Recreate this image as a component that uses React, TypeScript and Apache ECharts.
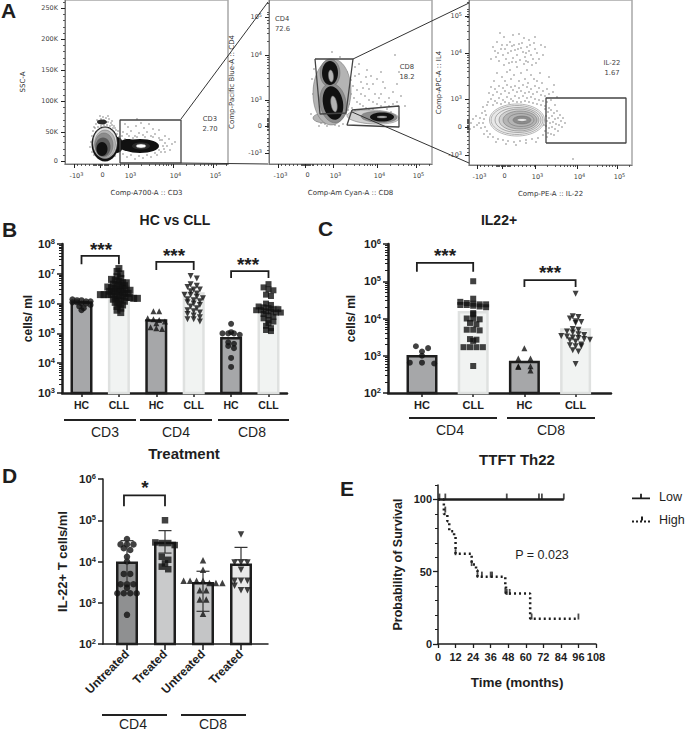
import React, { useEffect, useRef } from "react";
import * as echarts from "echarts";

const SANS = "'Liberation Sans', Arial, sans-serif";
const FLOW = "'DejaVu Sans', sans-serif";
const INK = "#1e1e1e";

// ---------- Panel A: flow plots (values in channel units of each plot)
const A1_DOTS = [[33,43],[36,45],[38,47],[41,46],[44,45],[47,43],[31,40],[34,41],[37,42],[40,43],[43,42],[46,41],[49,38],[30,36],[33,37],[36,38],[39,39],[42,39],[45,38],[48,36],[51,34],[28,33],[27,28],[26,22],[25,17],[27,12],[29,9],[52,30],[54,27],[55,24],[53,18],[52,13],[50,8],[58,32],[62,30],[66,33],[70,28],[74,31],[78,29],[82,32],[86,28],[90,30],[94,26],[63,37],[71,38],[79,36],[88,35],[76,41],[68,26],[60,25],[97,24],[100,21],[102,18],[99,15],[96,12],[92,9],[86,7],[78,6],[70,5],[62,7],[104,25],[107,20],[105,14],[100,28],[110,22],[94,34],[84,40],[72,45],[60,40],[35,48],[32,44],[39,44],[43,48],[29,37],[47,39],[50,36],[53,33],[57,28],[64,28],[72,27],[80,27],[88,27],[95,24],[98,18],[100,12],[94,14],[58,10],[66,9],[74,8],[82,9],[90,11]];
const A2_DOTS = [[63,112],[71,107],[126,109],[86,97],[90,90],[92,82],[97,87],[100,75],[104,80],[108,85],[112,70],[116,76],[120,66],[124,72],[128,80],[84,78],[88,74],[92,70],[96,68],[100,64],[104,62],[108,60],[112,58],[116,62],[120,58],[124,60],[82,70],[85,66],[88,62],[91,60],[94,58],[97,56],[100,54],[104,55],[108,52],[78,66],[80,60],[83,56],[86,54],[89,52],[92,50],[95,52],[78,75],[82,84],[86,88],[78,92],[76,84],[80,78],[94,76],[98,80],[102,88],[106,70],[110,66],[114,82],[118,55],[122,52],[128,62],[132,68],[136,58],[90,100],[98,94],[112,92],[130,92],[76,70],[79,54],[75,60],[77,50],[45,46],[48,43],[52,41],[56,40],[60,41],[64,42],[68,44],[72,46],[50,38],[58,38],[66,39],[42,50],[44,70],[46,80],[43,85],[45,95],[47,60],[74,40],[70,38]];
const A3_DOTS = [[31,132],[35,128],[44,130],[50,131],[55,127],[60,125],[66,128],[72,120],[24,118],[26,114],[28,123],[33,120],[36,116],[39,112],[41,123],[43,119],[46,115],[48,110],[50,121],[52,117],[54,113],[56,108],[58,118],[60,114],[62,110],[64,106],[66,116],[68,112],[70,106],[27,108],[30,104],[34,110],[37,106],[40,102],[44,107],[47,103],[51,105],[55,101],[59,103],[63,100],[29,112],[32,116],[42,114],[45,120],[49,116],[53,122],[57,112],[61,120],[65,122],[22,106],[38,120],[43,103],[57,104],[67,102],[74,110],[76,118],[35,100],[48,98],[41,95],[58,95],[28,92],[33,88],[38,93],[45,90],[52,92],[56,86],[62,90],[68,84],[71,92],[25,84],[36,84],[42,86],[50,84],[59,82],[65,86],[73,82],[80,88],[85,80],[22,78],[26,76],[30,79],[34,77],[38,80],[42,78],[46,79],[50,77],[54,80],[58,78],[62,76],[66,79],[70,77],[74,74],[78,76],[84,73],[20,72],[24,70],[28,73],[32,71],[36,74],[40,72],[44,75],[48,73],[52,74],[56,72],[60,73],[64,71],[68,73],[72,70],[76,69],[80,71],[88,68],[22,66],[26,64],[30,67],[34,65],[38,68],[42,66],[46,69],[50,67],[54,69],[58,67],[62,68],[66,66],[70,65],[74,64],[78,63],[82,65],[86,60],[18,60],[24,60],[28,62],[32,61],[36,63],[40,62],[44,64],[48,63],[52,63],[56,64],[60,63],[64,62],[68,61],[72,60],[76,59],[80,57],[14,58],[16,54],[19,63],[17,50],[15,46],[14,42],[16,38],[18,34],[21,31],[13,52],[11,47],[12,37],[10,42],[15,31],[19,28],[24,28],[29,26],[34,25],[39,24],[45,23],[51,24],[57,25],[63,26],[69,27],[74,30],[27,23],[37,21],[47,20],[57,22],[67,23],[7,49],[4,46],[2,42],[8,40],[5,38],[1,36],[76,56],[79,53],[82,55],[85,52],[88,54],[91,50],[77,49],[80,47],[83,49],[86,46],[89,47],[92,44],[78,44],[81,42],[84,43],[87,41],[90,40],[93,38],[77,39],[80,37],[83,38],[86,36],[89,34],[76,34],[79,32],[82,31],[85,30],[94,47],[96,42],[78,28],[74,45],[75,40],[104,6]];

// contour levels: x, y, rx, ry, rotation, shade index
const A1_LEVELS = [[52,19,6,8,0,7],[37,42,5,2.5,0,6],[40,20,13.5,17.5,0,7],[40,21,12,15.5,0,1],[40,20,10.5,14,0,3],[39,19,9,12,0,4],[38,17,7.5,9.5,0,5],[37,15,5.5,7,0,7],[63,19,9,6,0,7],[75,18,19,7,0,7],[76,18,9,3.5,0,6],[76,18,5,2,0,0]];
const A2_LEVELS = [[56,46,12,5,0,3],[63,72,19,33,-2,3],[61,91,10,14,0,4],[64,61,13,20,10,4],[61,91,8,12,0,7],[64,61,10,17,10,7],[62,88,2.5,6,5,3],[65,60,3,8,10,3],[104,47,26,7,-3,2],[110,47,18,5.5,-2,4],[113,47,12,4.5,0,7],[113,47,5,1,0,3]];
const A3_LEVELS = [[48,45,27.5,16,0,0],[48,45,26,14.5,0,1],[49,45,23,12.5,0,1],[50,45,20,11,0,2],[51,45,17,9,0,3],[52,45,13,6.5,0,3],[53,45,9,4,0,4],[53,45,5,1.2,0,0]];
const SHADES = ["#ffffff","#e8e8e8","#d0d0d0","#b4b4b4","#8c8c8c","#5a5a5a","#2a2a2a","#111111"];

const A1_GATE = [[55,1],[116,1],[116,44],[55,44],[55,1]];
const A2_GATE_CD4 = [[46,105],[84,105],[77,51],[51,50],[46,105]];
const A2_GATE_CD8 = [[83,54],[130,58],[130,37],[78,39],[83,54]];
const A3_GATE = [[77,22],[157,22],[157,67],[77,67],[77,22]];

const BIEX_LABELS = [["-10","3"],["0",""],["10","3"],["10","4"],["10","5"]];
const A1_X_TICKS = [9,35,63,108,148];
const A1_Y_TICKS = [3,32,63,94,125,156];
const A1_Y_LABELS = ["0","50K","100K","150K","200K","250K"];
const A2_X_TICKS = [9,36,64,108,147];
const A2_Y_TICKS = [11,38,64,109,147];
const A3_X_TICKS = [8,33,66,108,148];
const A3_Y_TICKS = [10,38,66,112,149];
const BIEX_Y_LABELS = [["-10","3"],["0",""],["10","3"],["10","4"],["10","5"]];

// ---------- Panel B
const B_LABELS = ["HC","CLL","HC","CLL","HC","CLL"];
const B_BARS = [1.2e6,1.4e6,3e5,2.4e6,7.5e4,9e5];
const B_CD3_HC = [1.4e6,1.3e6,1.3e6,1.2e6,1.2e6,1.1e6,1.1e6,1e6,1e6,9e5,8e5,7e5,6e5];
const B_CD3_CLL = [1.5e7,1.2e7,1e7,8e6,7e6,6.5e6,6e6,5.5e6,5e6,5e6,4.5e6,4.2e6,4e6,4e6,3.6e6,3.4e6,3.2e6,3e6,3e6,3e6,2.8e6,2.6e6,2.5e6,2.5e6,2.4e6,2.2e6,2.2e6,2e6,2e6,2e6,2e6,1.8e6,1.8e6,1.8e6,1.6e6,1.6e6,1.5e6,1.5e6,1.4e6,1.4e6,1.3e6,1.2e6,1.1e6,1e6,9e5,8e5,7e5,6e5,5e5];
const B_CD4_HC = [5.5e5,5.5e5,3.2e5,3e5,2.8e5,2.5e5,2.2e5,1.6e5,1.5e5,1.4e5];
const B_CD4_CLL = [8.5e6,7e6,4.5e6,4e6,3.6e6,3e6,3e6,2.6e6,2.2e6,2e6,2e6,1.7e6,1.5e6,1.4e6,1.3e6,1.2e6,1.1e6,1e6,9e5,8e5,7e5,6e5,5.5e5,5e5,4.5e5,4e5,3.5e5,3e5,3e5,2.5e5];
const B_CD8_HC = [2.1e5,1.1e5,1e5,1e5,1e5,9e4,5e4,4.5e4,3.8e4,3.2e4,1.5e4,7.5e3];
const B_CD8_CLL = [4.5e6,3.5e6,3e6,2.8e6,2e6,1.8e6,1e6,9e5,8e5,7.5e5,7e5,6.5e5,6.5e5,6e5,6e5,5.5e5,5.5e5,5e5,5e5,4.5e5,4e5,3.6e5,3.2e5,2.8e5,2.5e5,2.2e5,1.8e5,1.5e5,1.3e5,1.2e5];
const B_BRACKETS = [[0,1,2.1e7,4e7],[2,3,1.35e7,2.5e7],[4,5,7.2e6,1.23e7]];

// ---------- Panel C
const C_LABELS = ["HC","CLL","HC","CLL"];
const C_BARS = [1.05e3,1.6e4,7.3e2,5.5e3];
const C_CD4_HC = [1.8e3,1.6e3,1.3e3,1e3,6.5e2,6.5e2,6.2e2];
const C_CD4_CLL = [1e5,3.4e4,2.8e4,2.6e4,2.5e4,2.4e4,2.4e4,2.3e4,2.3e4,2.2e4,2.1e4,2e4,1.4e4,1.3e4,1e4,1e4,9.5e3,7.6e3,7e3,5e3,5e3,4.8e3,2.8e3,2.7e3,2.5e3,1.7e3,1.7e3,1.7e3,1.7e3,5.3e2];
const C_CD8_HC = [1.6e3,8.5e2,8.5e2,5.2e2,5.2e2,5e2,4e2];
const C_CD8_CLL = [4.6e4,1.15e4,1.1e4,1e4,8.5e3,8e3,7.6e3,5.2e3,5e3,4.5e3,4.2e3,3.8e3,3.6e3,3.4e3,3.3e3,3.1e3,3e3,2.8e3,2.7e3,2.6e3,2.4e3,2e3,1.9e3,1.8e3,1.8e3,1.4e3,1.3e3,6e2];
const C_BRACKETS = [[-0.1,1,1.8e5,3.1e5],[2,3,7e4,1.07e5]];

// ---------- Panel D
const D_LABELS = ["Untreated","Treated","Untreated","Treated"];
const D_BARS = [1e4,3e4,3.2e3,9e3];
const D_UPPER = [3.2e4,5.6e4,5.8e3,2.2e4];
const D_LOWER = [3e3,1.6e4,6.2e2,1.1e4];
const D_CD4_U = [3.5e4,2.6e4,2.6e4,2.6e4,2.1e4,1.9e4,1.3e4,1e4,5e3,5e3,2.8e3,2.8e3,2.8e3,2.3e3,1.7e3,1.7e3,1.7e3,1.7e3,5.1e2];
const D_CD4_T = [1e5,2.9e4,2.8e4,2.8e4,2.5e4,1.3e4,1.1e4,9e3,7.5e3,6.5e3];
const D_CD8_U = [1.07e4,6.3e3,3.4e3,3.4e3,3.4e3,3.4e3,3e3,3e3,3e3,2e3,2e3,1.2e3,1.2e3,5.4e2];
const D_CD8_T = [4.5e4,9.5e3,9.5e3,9.5e3,6.3e3,3.4e3,3.4e3,3.4e3,2.6e3,2e3,2e3];
const D_BRACKETS = [[-0.08,1,2.2e5,4e5]];

// ---------- Panel E
const E_LOW = [[0,100],[86,100]];
const E_HIGH = [[0,100],[4,90],[6.4,85],[7.7,78],[11,74.5],[12,62.5],[23,55],[26,51],[27,46.5],[46,41],[46.5,35],[63,17.5],[96,17.5]];
const E_LOW_CENSORED = [[1,100],[5,100],[47,100],[69,100],[71,100],[86,100]];
const E_HIGH_CENSORED = [[5,92],[12,62.5],[23,55],[27,47],[30,47],[36,47],[37,47],[46,36],[47,35],[49,35],[64,18],[96,18]];
const E_X_TICKS = [0,12,24,36,48,60,72,84,96,108];

const swarm = (values, index, step, bin) => {
  const bins = new Map();
  values.forEach((v) => {
    const k = Math.round(Math.log10(v) / bin);
    if (!bins.has(k)) bins.set(k, []);
    bins.get(k).push(v);
  });
  const out = [];
  bins.forEach((list) => {
    list.forEach((v, i) => {
      out.push([index + (i - (list.length - 1) / 2) * step, v]);
    });
  });
  return out;
};

const grids = [], xAxes = [], yAxes = [], series = [];

const logMinor = (lo, hi) => {
  const r = [];
  for (let e = lo; e < hi; e++) for (let k = 2; k < 10; k++) r.push(e + Math.log10(k));
  return r;
};

const flowMinor = (ticks, extent) => {
  const r = [];
  const d = ticks[3] - ticks[2];
  for (let i = 2; i < 5; i++) {
    for (let k = 2; k < 10; k++) {
      const p = ticks[i] + d * Math.log10(k);
      if (p < extent) r.push(p);
    }
  }
  for (let p = ticks[0] + 3; p < ticks[2]; p += Math.abs(p - ticks[1]) < 8 ? 1.2 : 4) r.push(p);
  return r;
};

const supLabel = (pair) => (pair[1] ? `{t|${pair[0]}}{s|${pair[1]}}` : `{t|${pair[0]}}`);
const FLOW_RICH = {
  t: { fontSize: 6.5, fontFamily: FLOW, color: "#444" },
  s: { fontSize: 5, fontFamily: FLOW, color: "#444", padding: [0, 0, 4, 0] },
};

function flowPlot(cfg) {
  const gi = grids.length;
  grids.push({ left: cfg.left, top: cfg.top, width: cfg.w, height: cfg.h, show: true, borderColor: "#a8a8a8", borderWidth: 1.5, backgroundColor: "transparent" });
  const xi = xAxes.length, yi = yAxes.length;
  const xPad = cfg.labelShift;
  xAxes.push({
    type: "value", gridIndex: gi, min: 0, max: cfg.w, position: "bottom",
    name: cfg.xName, nameLocation: "middle", nameGap: 25,
    nameTextStyle: { fontSize: 7, fontFamily: FLOW, color: "#333" },
    axisLine: { onZero: false, lineStyle: { color: "#777", width: 1 } },
    axisTick: { customValues: cfg.xTicks, length: 4, inside: false, lineStyle: { color: "#222", width: 1 } },
    axisLabel: {
      customValues: cfg.xTicks, margin: 7, padding: [0, 0, 0, xPad], rich: FLOW_RICH,
      formatter: (v) => supLabel(BIEX_LABELS[cfg.xTicks.indexOf(v)] || ["", ""]),
    },
    splitLine: { show: false },
  });
  xAxes.push({
    type: "value", gridIndex: gi, min: 0, max: cfg.w, position: "bottom",
    axisLine: { show: false, onZero: false },
    axisTick: { customValues: flowMinor(cfg.xTicks, cfg.w), length: 2, lineStyle: { color: "#333", width: 0.8 } },
    axisLabel: { show: false }, splitLine: { show: false },
  });
  const yLabels = cfg.yLabels;
  yAxes.push({
    type: "value", gridIndex: gi, min: 0, max: cfg.h, position: "left",
    name: cfg.yName, nameLocation: "middle", nameGap: cfg.yNameGap,
    nameTextStyle: { fontSize: 7, fontFamily: FLOW, color: "#333" },
    axisLine: { onZero: false, lineStyle: { color: "#777", width: 1 } },
    axisTick: { customValues: cfg.yTicks, length: 4, lineStyle: { color: "#222", width: 1 } },
    axisLabel: {
      customValues: cfg.yTicks, margin: 7, rich: FLOW_RICH,
      formatter: (v) => {
        const l = yLabels[cfg.yTicks.indexOf(v)];
        return supLabel(Array.isArray(l) ? l : [l || "", ""]);
      },
    },
    splitLine: { show: false },
  });
  yAxes.push({
    type: "value", gridIndex: gi, min: 0, max: cfg.h, position: "left",
    axisLine: { show: false, onZero: false },
    axisTick: { customValues: cfg.yMinor, length: 2, lineStyle: { color: "#333", width: 0.8 } },
    axisLabel: { show: false }, splitLine: { show: false },
  });
  series.push({
    type: "scatter", xAxisIndex: xi, yAxisIndex: yi, data: cfg.dots, symbol: "rect", symbolSize: 1.2,
    itemStyle: { color: "#222", opacity: 0.85 }, silent: true, z: 2,
  });
  series.push({
    type: "custom", xAxisIndex: xi, yAxisIndex: yi, data: cfg.levels, clip: false, silent: true, z: 3,
    renderItem: (_p, api) => {
      const c = api.coord([api.value(0), api.value(1)]);
      const s = api.size([api.value(2), api.value(3)]);
      const lvl = api.value(5);
      return {
        type: "ellipse", x: c[0], y: c[1], rotation: (api.value(4) * Math.PI) / 180,
        shape: { cx: 0, cy: 0, rx: s[0], ry: s[1] },
        style: { fill: SHADES[lvl], stroke: lvl < 5 ? "#6a6a6a" : "none", lineWidth: 0.5 },
      };
    },
  });
  cfg.gates.forEach((g) => {
    series.push({
      type: "line", xAxisIndex: xi, yAxisIndex: yi, data: g, symbol: "none", clip: false, silent: true, z: 4,
      lineStyle: { color: "#444", width: 1.3 },
    });
  });
}

function barPanel(cfg) {
  const gi = grids.length;
  grids.push({ left: cfg.left, top: cfg.top, width: cfg.w, height: cfg.h });
  const xi = xAxes.length, yi = yAxes.length;
  const ticks = cfg.labels.map((_, i) => i);
  xAxes.push({
    type: "value", gridIndex: gi, position: "bottom",
    min: (cfg.left - cfg.cx0) / cfg.step, max: (cfg.left + cfg.w - cfg.cx0) / cfg.step,
    axisLine: { onZero: false, lineStyle: { color: INK, width: cfg.lw } },
    axisTick: { customValues: ticks, length: cfg.xTickLen, lineStyle: { color: INK, width: 1.5 } },
    axisLabel: {
      customValues: ticks, margin: cfg.xMargin, rotate: cfg.rotate || 0,
      fontSize: cfg.xFont, fontWeight: "bold", fontFamily: SANS, color: INK,
      showMinLabel: true, showMaxLabel: true,
      formatter: (v) => cfg.labels[Math.round(v)] || "",
    },
    splitLine: { show: false },
  });
  const expOf = (v) => Math.round(Math.log10(v));
  yAxes.push({
    type: "log", logBase: 10, gridIndex: gi, min: cfg.ymin, max: cfg.ymax, position: "left",
    name: cfg.yName, nameLocation: "middle", nameGap: cfg.yNameGap,
    nameTextStyle: { fontSize: cfg.yNameFont, fontWeight: "bold", fontFamily: SANS, color: INK },
    axisLine: { show: true, onZero: false, lineStyle: { color: INK, width: cfg.lw } },
    axisTick: { show: true, length: 5, lineStyle: { color: INK, width: 1.5 } },
    axisLabel: {
      margin: 7,
      rich: {
        t: { fontSize: 11.5, fontWeight: "bold", fontFamily: SANS, color: INK },
        s: { fontSize: 7.5, fontWeight: "bold", fontFamily: SANS, color: INK, padding: [0, 0, 5, 0] },
      },
      formatter: (v) => `{t|10}{s|${expOf(v)}}`,
    },
    splitLine: { show: false },
  });
  if (cfg.minorTicks) {
    // second axis in decades carries the minor log ticks
    const lo = Math.log10(cfg.ymin), hi = Math.log10(cfg.ymax);
    yAxes.push({
      type: "value", gridIndex: gi, min: lo, max: hi, position: "left",
      axisLine: { show: false, onZero: false },
      axisTick: { show: true, customValues: logMinor(lo, hi), length: 3, lineStyle: { color: INK, width: 1 } },
      axisLabel: { show: false }, splitLine: { show: false },
    });
  }
  series.push({
    type: "bar", xAxisIndex: xi, yAxisIndex: yi, barWidth: cfg.barW, silent: true, z: 2,
    data: cfg.bars.map((v, i) => ({
      value: [i, v],
      itemStyle: { color: cfg.barFill[i], borderColor: cfg.barStroke[i], borderWidth: 2.5 },
    })),
  });
  cfg.points.forEach((p) => {
    series.push({
      type: "scatter", xAxisIndex: xi, yAxisIndex: yi, silent: true, z: 4, clip: false,
      data: swarm(p.values, p.index, cfg.swarmStep * (p.spread || 1), cfg.swarmBin),
      symbol: p.symbol, symbolRotate: p.rotate || 0, symbolSize: p.size || 6,
      itemStyle: { color: "#111" },
    });
  });
  series.push({
    type: "custom", xAxisIndex: xi, yAxisIndex: yi, silent: true, z: 5, clip: false,
    data: cfg.brackets,
    renderItem: (_p, api) => {
      const x0 = api.value(0), x1 = api.value(1), lo = api.value(2), hi = api.value(3);
      return {
        type: "polyline",
        shape: { points: [api.coord([x0, lo]), api.coord([x0, hi]), api.coord([x1, hi]), api.coord([x1, lo])] },
        style: { stroke: INK, lineWidth: 1.8, fill: "none" },
      };
    },
  });
  if (cfg.errors) {
    series.push({
      type: "custom", xAxisIndex: xi, yAxisIndex: yi, silent: true, z: 5, clip: false,
      data: cfg.errors,
      renderItem: (_p, api) => {
        const x = api.value(0);
        const hi = api.coord([x, api.value(1)]);
        const lo = api.coord([x, api.value(2)]);
        const cap = 6.5;
        const st = { stroke: "#333", lineWidth: 1.2, fill: "none" };
        return {
          type: "group",
          children: [
            { type: "line", shape: { x1: hi[0], y1: hi[1], x2: lo[0], y2: lo[1] }, style: st },
            { type: "line", shape: { x1: hi[0] - cap, y1: hi[1], x2: hi[0] + cap, y2: hi[1] }, style: st },
            { type: "line", shape: { x1: lo[0] - cap, y1: lo[1], x2: lo[0] + cap, y2: lo[1] }, style: st },
          ],
        };
      },
    });
  }
}

flowPlot({
  left: 65, top: 0, w: 163, h: 164, xTicks: A1_X_TICKS, yTicks: A1_Y_TICKS, yLabels: A1_Y_LABELS, labelShift: 5,
  yMinor: A1_Y_TICKS.flatMap((t) => [1, 2, 3, 4].map((k) => t + k * 6.1)).filter((v) => v < 164),
  xName: "Comp-A700-A :: CD3", yName: "SSC-A", yNameGap: 39,
  dots: A1_DOTS, levels: A1_LEVELS, gates: [A1_GATE],
});
flowPlot({
  left: 269, top: 0, w: 163, h: 164, xTicks: A2_X_TICKS, yTicks: A2_Y_TICKS, yLabels: BIEX_Y_LABELS, labelShift: 5,
  yMinor: flowMinor(A2_Y_TICKS, 164),
  xName: "Comp-Am Cyan-A :: CD8", yName: "Comp-Pacific Blue-A :: CD4", yNameGap: 34,
  dots: A2_DOTS, levels: A2_LEVELS, gates: [A2_GATE_CD4, A2_GATE_CD8],
});
flowPlot({
  left: 469, top: 0, w: 163, h: 165, xTicks: A3_X_TICKS, yTicks: A3_Y_TICKS, yLabels: BIEX_Y_LABELS, labelShift: 5,
  yMinor: flowMinor(A3_Y_TICKS, 165),
  xName: "Comp-PE-A :: IL-22", yName: "Comp-APC-A :: IL4", yNameGap: 27,
  dots: A3_DOTS, levels: A3_LEVELS, gates: [A3_GATE],
});

const HC_FILL = "#a6a7a9", CLL_FILL = "#f1f3f2", CLL_STROKE = "#dfe1e0";
barPanel({
  left: 62, top: 244, w: 225, h: 149, cx0: 81.5, step: 37.4, ymin: 1e3, ymax: 1e8,
  lw: 2.5, labels: B_LABELS, xTickLen: 4, xMargin: 6, xFont: 10.5, barW: 22,
  yName: "cells/ ml", yNameGap: 28, yNameFont: 12, minorTicks: true,
  bars: B_BARS, barFill: [HC_FILL, CLL_FILL, HC_FILL, CLL_FILL, HC_FILL, CLL_FILL],
  barStroke: [INK, CLL_STROKE, INK, CLL_STROKE, INK, CLL_STROKE],
  swarmStep: 0.11, swarmBin: 0.13,
  points: [
    { values: B_CD3_HC, index: 0, symbol: "circle", spread: 1.1 },
    { values: B_CD3_CLL, index: 1, symbol: "rect", spread: 0.9, size: 7 },
    { values: B_CD4_HC, index: 2, symbol: "triangle", spread: 1.4 },
    { values: B_CD4_CLL, index: 3, symbol: "triangle", rotate: 180, spread: 1.5 },
    { values: B_CD8_HC, index: 4, symbol: "circle", spread: 1.4 },
    { values: B_CD8_CLL, index: 5, symbol: "rect", spread: 1.2 },
  ],
  brackets: B_BRACKETS,
});
barPanel({
  left: 388, top: 244, w: 223, h: 149, cx0: 422, step: 51.2, ymin: 1e2, ymax: 1e6,
  lw: 2.5, labels: C_LABELS, xTickLen: 4, xMargin: 6, xFont: 11, barW: 31,
  yName: "cells/ ml", yNameGap: 31, yNameFont: 12, minorTicks: true,
  bars: C_BARS, barFill: [HC_FILL, CLL_FILL, HC_FILL, CLL_FILL],
  barStroke: [INK, CLL_STROKE, INK, CLL_STROKE],
  swarmStep: 0.14, swarmBin: 0.12,
  points: [
    { values: C_CD4_HC, index: 0, symbol: "circle", spread: 1.7 },
    { values: C_CD4_CLL, index: 1, symbol: "rect", spread: 0.9 },
    { values: C_CD8_HC, index: 2, symbol: "triangle", spread: 1.7 },
    { values: C_CD8_CLL, index: 3, symbol: "triangle", rotate: 180, spread: 0.8 },
  ],
  brackets: C_BRACKETS,
});
barPanel({
  left: 103, top: 479, w: 165, h: 165, cx0: 127, step: 38, ymin: 1e2, ymax: 1e6,
  lw: 1.5, labels: D_LABELS, xTickLen: 6, xMargin: 8, xFont: 12, rotate: 45, barW: 22,
  yName: "IL-22+ T cells/ml", yNameGap: 34, yNameFont: 13, minorTicks: false,
  bars: D_BARS, barFill: ["#8f9091", "#c9cacb", "#c4c5c6", "#e9e9e9"], barStroke: [INK, INK, INK, INK],
  swarmStep: 0.17, swarmBin: 0.12,
  points: [
    { values: D_CD4_U, index: 0, symbol: "circle", size: 6.5 },
    { values: D_CD4_T, index: 1, symbol: "rect", size: 6.5 },
    { values: D_CD8_U, index: 2, symbol: "triangle", size: 6.5 },
    { values: D_CD8_T, index: 3, symbol: "triangle", rotate: 180, size: 6.5 },
  ],
  brackets: D_BRACKETS,
  errors: D_BARS.map((_, i) => [i, D_UPPER[i], D_LOWER[i]]),
});

// Panel E
{
  const gi = grids.length;
  grids.push({ left: 438, top: 485, width: 158, height: 159 });
  const xi = xAxes.length, yi = yAxes.length;
  const boldLabel = { fontSize: 11, fontWeight: "bold", fontFamily: SANS, color: INK };
  xAxes.push({
    type: "value", gridIndex: gi, min: 0, max: 108, interval: 12, position: "bottom",
    name: "Time (months)", nameLocation: "middle", nameGap: 31,
    nameTextStyle: { fontSize: 13.5, fontWeight: "bold", fontFamily: SANS, color: INK },
    axisLine: { onZero: false, lineStyle: { color: INK, width: 1.5 } },
    axisTick: { customValues: E_X_TICKS, length: 4, lineStyle: { color: INK, width: 1.3 } },
    axisLabel: { ...boldLabel, customValues: E_X_TICKS, margin: 7, hideOverlap: false },
    splitLine: { show: false },
  });
  yAxes.push({
    type: "value", gridIndex: gi, min: 0, max: 110, position: "left",
    name: "Probability of Survival", nameLocation: "middle", nameGap: 34,
    nameTextStyle: { fontSize: 12.5, fontWeight: "bold", fontFamily: SANS, color: INK },
    axisLine: { onZero: false, lineStyle: { color: INK, width: 1.5 } },
    axisTick: { customValues: [0, 50, 100], length: 5, lineStyle: { color: INK, width: 1.3 } },
    axisLabel: { ...boldLabel, customValues: [0, 50, 100], margin: 6 },
    splitLine: { show: false },
  });
  yAxes.push({
    type: "value", gridIndex: gi, min: 0, max: 110, position: "left",
    axisLine: { show: false, onZero: false },
    axisTick: { customValues: [10, 20, 30, 40, 60, 70, 80, 90, 110], length: 3, lineStyle: { color: INK, width: 1 } },
    axisLabel: { show: false }, splitLine: { show: false },
  });
  series.push({
    name: "Low", type: "line", step: "end", xAxisIndex: xi, yAxisIndex: yi, data: E_LOW, symbol: "none", silent: true,
    lineStyle: { color: INK, width: 2.5 }, clip: false, z: 3,
  });
  series.push({
    name: "High", type: "line", step: "end", xAxisIndex: xi, yAxisIndex: yi, data: E_HIGH, symbol: "none", silent: true,
    lineStyle: { color: INK, width: 2.5, type: [2, 3] }, clip: false, z: 3,
  });
  series.push({
    type: "scatter", xAxisIndex: xi, yAxisIndex: yi, data: E_LOW_CENSORED.map((p) => [p[0], p[1] + 2]), symbol: "rect", symbolSize: [1.8, 6], silent: true,
    itemStyle: { color: INK }, z: 4,
  });
  series.push({
    type: "scatter", xAxisIndex: xi, yAxisIndex: yi, data: E_HIGH_CENSORED.map((p) => [p[0], p[1] + 1]), symbol: "rect", symbolSize: [1.8, 6], silent: true,
    itemStyle: { color: INK }, z: 4,
  });
}

const txt = (text, x, y, font, extra = {}) => ({
  type: "text", x, y, z: 20, silent: true,
  style: { text, font, fill: INK, textAlign: "center", textVerticalAlign: "middle", ...extra },
});
const seg = (x1, y1, x2, y2, w = 2, color = "#222") => ({
  type: "line", z: 10, silent: true, shape: { x1, y1, x2, y2 }, style: { stroke: color, lineWidth: w },
});

const LETTER = `bold 21px ${SANS}`;
const LEFT = { textAlign: "left" };
const SMALL = `6.8px ${FLOW}`;
const SMALL_EXTRA = { fill: "#444", lineHeight: 9.5 };
const TITLE = `bold 14px ${SANS}`;
const TITLE_LG = `bold 15px ${SANS}`;
const GROUP = `14px ${SANS}`;
const STARS = `bold 19px ${SANS}`;

const graphicElements = [
  txt("A", 1, 10, LETTER, LEFT), txt("B", 2, 229, LETTER, LEFT), txt("C", 318, 228, LETTER, LEFT), txt("D", 2, 475, LETTER, LEFT), txt("E", 340, 488, LETTER, LEFT),
  txt("CD3\n2.70", 210, 124, SMALL, SMALL_EXTRA),
  txt("CD4\n72.6", 275, 24, SMALL, { ...SMALL_EXTRA, textAlign: "left" }),
  txt("CD8\n18.2", 407, 72, SMALL, SMALL_EXTRA),
  txt("IL-22\n1.67", 612, 68, SMALL, SMALL_EXTRA),
  seg(181, 119, 268, 2, 1, "#333"), seg(181, 163, 268, 164, 1, "#333"),
  seg(353, 59, 469, 3, 1, "#333"), seg(352, 112, 469, 163, 1, "#333"),
  txt("HC vs CLL", 175, 220, TITLE), txt("IL22+", 499, 220, TITLE),
  txt("Treatment", 184, 453, TITLE_LG), txt("TTFT Th22", 517, 459, TITLE_LG),
  txt("***", 101, 249, STARS), txt("***", 174, 255, STARS), txt("***", 248, 264, STARS),
  txt("***", 445, 255, STARS), txt("***", 550, 272, STARS), txt("*", 145, 487, STARS),
  seg(64, 420, 136, 420), seg(140, 420, 212, 420), seg(218, 420, 289, 420),
  txt("CD3", 105, 432, GROUP), txt("CD4", 176, 432, GROUP), txt("CD8", 252, 432, GROUP),
  seg(409, 418, 497, 418), seg(507, 418, 595, 418),
  txt("CD4", 450, 430, GROUP), txt("CD8", 551, 430, GROUP),
  seg(102, 715, 167, 715), seg(181, 715, 246, 715),
  txt("CD4", 133, 724, GROUP), txt("CD8", 213, 724, GROUP),
  txt("P = 0.023", 542, 555, `12.5px ${SANS}`),
];

const LOW_ICON = "path://M0 5H20V7H0Z M9 1H11V5H9Z";
const HIGH_ICON = "path://M0 5H2V7H0Z M4 5H6V7H4Z M8 5H10V7H8Z M9 1H11V5H9Z M12 5H14V7H12Z M16 5H18V7H16Z";

export default function App() {
  const ref = useRef(null);
  useEffect(() => {
    const chart = echarts.init(ref.current, null, { renderer: "svg" });
    chart.setOption({
      animation: false,
      grid: grids,
      xAxis: xAxes,
      yAxis: yAxes,
      series,
      graphic: { elements: graphicElements },
      legend: {
        left: 627, top: 485, orient: "vertical", itemWidth: 18, itemHeight: 7, itemGap: 10, padding: [5, 0, 5, 5],
        data: [
          { name: "Low", icon: LOW_ICON, itemStyle: { color: INK } },
          { name: "High", icon: HIGH_ICON, itemStyle: { color: INK } },
        ],
        selectedMode: false,
        textStyle: { fontSize: 12.5, fontFamily: SANS, color: INK, padding: [0, 0, 0, 4] },
      },
    });
    return () => chart.dispose();
  }, []);
  return <div ref={ref} style={{ position: "absolute", left: 0, top: 0, width: 685, height: 732, background: "#fff" }} />;
}
